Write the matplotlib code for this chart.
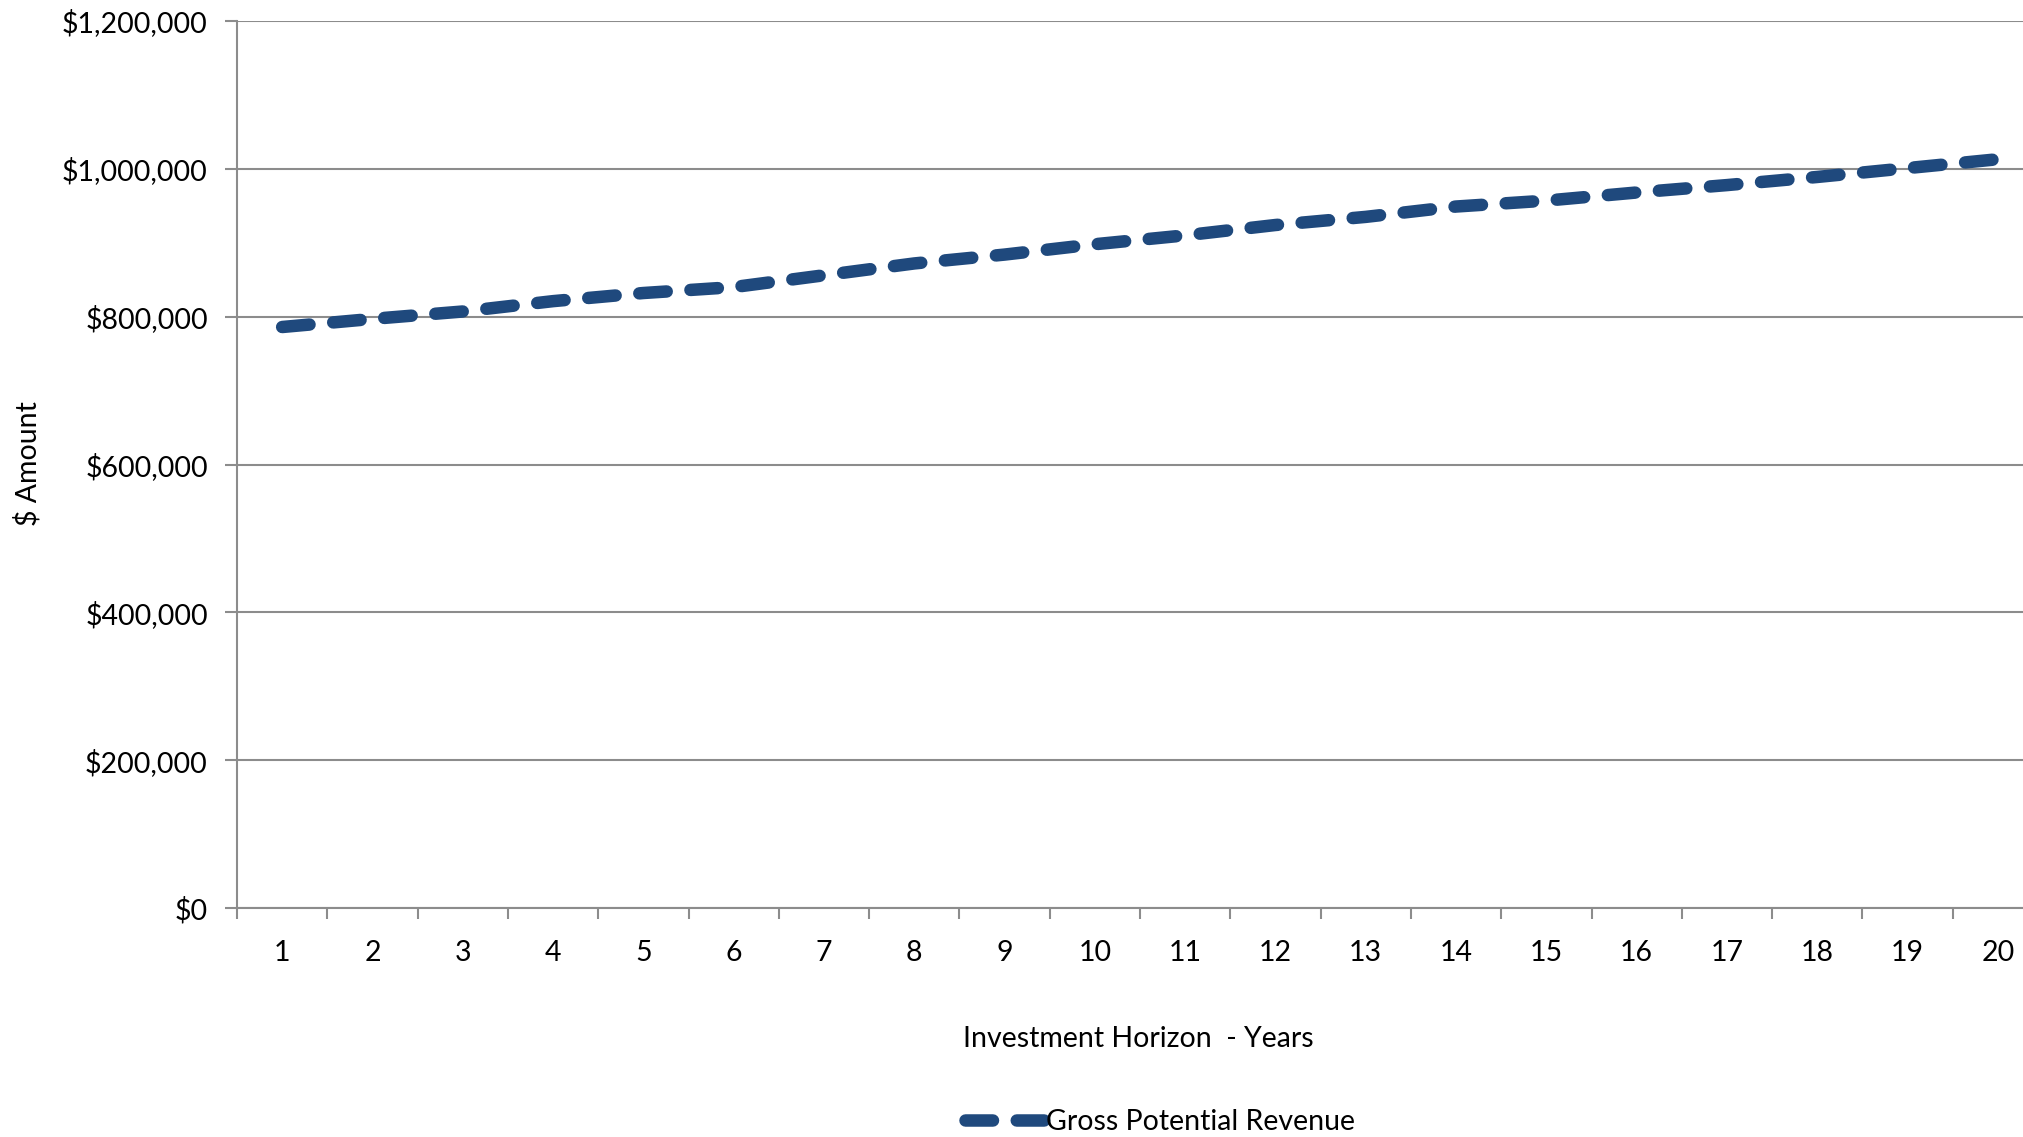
import matplotlib
matplotlib.use("Agg")
import matplotlib.pyplot as plt
from matplotlib.ticker import FuncFormatter, FixedLocator
import numpy as np

# values
years = list(range(1, 21))
gross_potential_revenue = [786000, 797000, 807000, 821000, 832000, 840000, 856000, 872000,
                           884000, 898000, 910000, 924000, 935000, 949000, 957000, 968000,
                           978000, 989000, 1001000, 1013000]
y_ticks = [0, 200000, 400000, 600000, 800000, 1000000, 1200000]

line_color = '#1F497D'
grid_color = '#8C8C8C'
fs = 20.5

plt.rcParams['font.family'] = ['Lato', 'DejaVu Sans']

fig = plt.figure(figsize=(20.23, 11.37), dpi=100)
# the plot area runs past the right edge of the picture, as in the original
ax = fig.add_axes([237 / 2023, 1 - 908 / 1137, 1806 / 2023, 887 / 1137])

ax.plot(years, gross_potential_revenue, color=line_color, lw=9,
        dashes=(2.2, 1.9), dash_capstyle='round', solid_capstyle='round',
        label='Gross Potential Revenue')

ax.set_xlim(0.5, 20.5)
ax.set_ylim(0, 1200000)
ax.set_yticks(y_ticks)
ax.yaxis.set_major_formatter(FuncFormatter(lambda v, p: '${:,.0f}'.format(v)))
ax.set_xticks(years)
ax.set_xticklabels([str(y) for y in years])
ax.xaxis.set_minor_locator(FixedLocator(np.arange(0.5, 21, 1)))

ax.tick_params(axis='y', length=9, width=1.5, color=grid_color, labelsize=fs, pad=12)
ax.tick_params(axis='x', which='major', length=0, labelsize=fs, pad=23)
ax.tick_params(axis='x', which='minor', length=8, width=1.5, color=grid_color)

ax.grid(axis='y', color=grid_color, lw=1.5)
ax.set_axisbelow(True)
for s in ['top', 'right']:
    ax.spines[s].set_visible(False)
for s in ['left', 'bottom']:
    ax.spines[s].set_color(grid_color)
    ax.spines[s].set_linewidth(1.5)

fig.text(28 / 2023, 1 - 464 / 1137, '$ Amount', rotation=90, fontsize=fs,
         ha='center', va='center')
fig.text(1138 / 2023, 1 - 1039 / 1137, 'Investment Horizon  - Years', fontsize=fs,
         ha='center', va='center')

fig.legend(loc='center', bbox_to_anchor=(1160 / 2023, 1 - 1122 / 1137), frameon=False,
           fontsize=fs, handlelength=2.8, handletextpad=0.05)

fig.savefig('out.png', dpi=100)
